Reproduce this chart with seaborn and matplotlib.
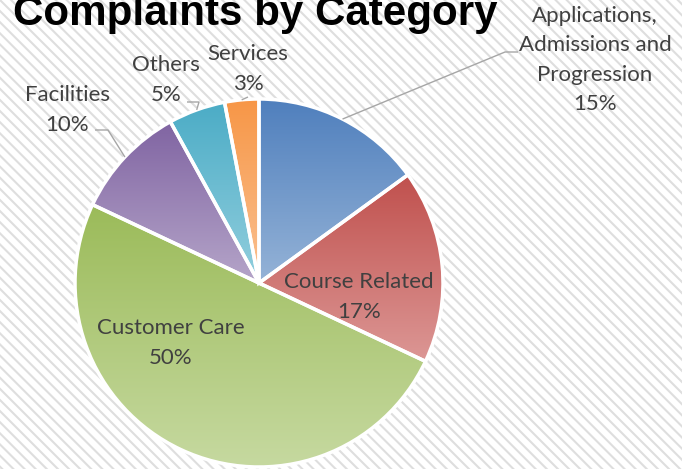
import matplotlib.pyplot as plt
import numpy as np
import seaborn as sns
from matplotlib.patches import Rectangle

# Slice data, clockwise from 12 o'clock
categories = [
    "Applications,\nAdmissions and\nProgression",
    "Course Related",
    "Customer Care",
    "Facilities",
    "Others",
    "Services",
]
shares = [15, 17, 50, 10, 5, 3]

# Excel-style vertical gradient: dark at top, light at bottom
top_colors = ["#4F7FBD", "#C0504D", "#9BBB59", "#8064A2", "#4BACC6", "#F79646"]
bottom_colors = ["#95B3D7", "#DC9795", "#C6D9A0", "#B5A5C9", "#93CFDE", "#FAC293"]

TEXT = "#404040"
LEADER = "#a6a6a6"

sns.set_theme(style="white")
plt.rcParams["font.family"] = ["Lato", "DejaVu Sans"]
plt.rcParams["hatch.linewidth"] = 1.5
plt.rcParams["hatch.color"] = "#dedede"

W, H = 682, 469
CX, CY, R = 259, 283, 184  # pie centre / radius in pixels


def px(x, y):
    """pixel position -> data coords (pie radius = 1)"""
    return (x - CX) / R, (CY - y) / R


fig = plt.figure(figsize=(W / 100, H / 100), dpi=100)
fig.patches.append(
    Rectangle((0, 0), 1, 1, transform=fig.transFigure, facecolor="white",
              edgecolor="#dedede", hatch="\\\\\\", linewidth=0, zorder=-10)
)
ax = fig.add_axes([0, 0, 1, 1])
ax.patch.set_alpha(0)
ax.axis("off")

wedges, _ = ax.pie(
    shares,
    startangle=90,
    counterclock=False,
    radius=1,
    wedgeprops={"edgecolor": "white", "linewidth": 2.5, "facecolor": "none"},
)

grad = np.linspace(0, 1, 256).reshape(-1, 1)
for w, c0, c1 in zip(wedges, top_colors, bottom_colors):
    w.set_zorder(3)
    bb = w.get_path().get_extents()
    cmap = sns.blend_palette([c0, c1], as_cmap=True)
    im = ax.imshow(grad, cmap=cmap, aspect="auto", origin="upper",
                   extent=(bb.x0, bb.x1, bb.y0, bb.y1), zorder=2, interpolation="bilinear")
    im.set_clip_path(w)

ax.set_xlim(-CX / R, (W - CX) / R)
ax.set_ylim(-(H - CY) / R, CY / R)
ax.set_aspect("equal")

pct = [f"{s}%" for s in shares]
kw = dict(fontsize=16, color=TEXT, ha="center", va="center", linespacing=1.58, zorder=5)

# inside labels
ax.text(*px(359, 297), f"{categories[1]}\n{pct[1]}", **kw)
ax.text(*px(171, 343), f"{categories[2]}\n{pct[2]}", **kw)

# outside labels
ax.text(*px(595, 60), f"{categories[0]}\n{pct[0]}", **kw)
ax.text(*px(67, 110), f"{categories[3]}\n{pct[3]}", **kw)
ax.text(*px(166, 80), f"{categories[4]}\n{pct[4]}", **kw)
ax.text(*px(248, 69), f"{categories[5]}\n{pct[5]}", **kw)


def edge_point(w):
    mid = np.deg2rad((w.theta1 + w.theta2) / 2)
    return np.cos(mid), np.sin(mid)


def leader(w, *pts):
    x0, y0 = edge_point(w)
    xs = [x0] + [px(*p)[0] for p in pts]
    ys = [y0] + [px(*p)[1] for p in pts]
    ax.plot(xs, ys, color=LEADER, lw=1.0, zorder=4, solid_capstyle="butt")


leader(wedges[0], (505, 52), (518, 52))
leader(wedges[3], (108, 130), (95, 130))
leader(wedges[4], (199, 102), (187, 102))
leader(wedges[5], (248, 97))

fig.text(13 / W, 1 - 25 / H, "Complaints by Category", fontsize=30.3,
         fontweight="bold", family="Liberation Sans", color="black",
         ha="left", va="baseline")

fig.savefig("out.png", dpi=100)
